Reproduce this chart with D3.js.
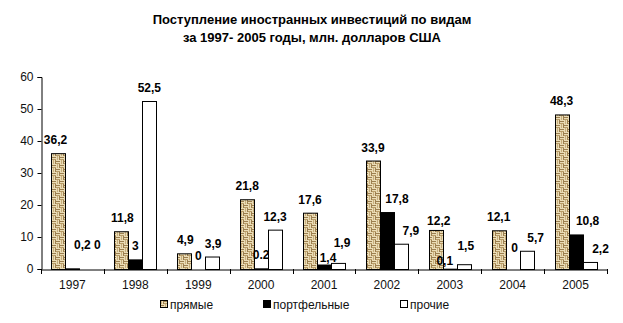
<!DOCTYPE html>
<html>
<head>
<meta charset="utf-8">
<script src="https://cdn.jsdelivr.net/npm/d3@7/dist/d3.min.js"></script>
<style>
  html, body { margin: 0; padding: 0; background: #fff; }
  svg { display: block; font-family: "Liberation Sans", Arial, sans-serif; }
</style>
</head>
<body>
<svg id="chart" width="623" height="323"></svg>
<script>
// Foreign investment inflows by type, 1997–2005, mln USD
const years = ["1997", "1998", "1999", "2000", "2001", "2002", "2003", "2004", "2005"];
const direct = [36.2, 11.8, 4.9, 21.8, 17.6, 33.9, 12.2, 12.1, 48.3];
const portfolio = [0.2, 3, 0, 0.2, 1.4, 17.8, 0.1, 0, 10.8];
const other = [0, 52.5, 3.9, 12.3, 1.9, 7.9, 1.5, 5.7, 2.2];
const seriesNames = ["прямые", "портфельные", "прочие"];
const portfolioLabels = ["0,2", "3", "0", "0.2", "1,4", "17,8", "0,1", "0", "10,8"];
const yTicks = [0, 10, 20, 30, 40, 50, 60];

// label nudges (dx, dy) per series, so that crowded labels do not collide
const nudgeDirect = [[-3,0],[1,0],[1,0],[0,0],[0,0],[0,0],[3,4],[0,0],[0,0]];
const nudgePortfolio = [[10,-10],[0,0],[0,0],[0,0],[4,6],[10,0],[-5,5],[2,-8],[12,0]];
const nudgeOther = [[11,-11],[0,0],[1,0],[0,0],[4,-7],[10,0],[2,-5],[9,0],[11,0]];

const fmt = v => String(v).replace(".", ",");

const svg = d3.select("#chart");
const x0 = 41, x1 = 607, yTop = 77, yBot = 269;

const x = d3.scaleBand().domain(years).range([x0, x1]).paddingInner(0).paddingOuter(0);
const xs = d3.scaleBand().domain(seriesNames).range([0, x.bandwidth()]).paddingInner(0).paddingOuter(0.75);
const y = d3.scaleLinear().domain([0, 60]).range([yBot, yTop]);

// basket-weave texture for the direct-investment bars
const defs = svg.append("defs");
const pat = defs.append("pattern").attr("id", "weave")
  .attr("patternUnits", "userSpaceOnUse").attr("width", 8).attr("height", 8);
pat.append("rect").attr("width", 8).attr("height", 8).attr("fill", "#d9c597");
const light = "#eadcb6", dark = "#9c7f4f";
// horizontal strands in top-left and bottom-right blocks
[[0, 0], [4, 4]].forEach(([bx, by]) => {
  pat.append("rect").attr("x", bx).attr("y", by).attr("width", 4).attr("height", 1).attr("fill", light);
  pat.append("rect").attr("x", bx).attr("y", by + 1).attr("width", 4).attr("height", 1).attr("fill", dark);
  pat.append("rect").attr("x", bx).attr("y", by + 2).attr("width", 4).attr("height", 1).attr("fill", light);
  pat.append("rect").attr("x", bx).attr("y", by + 3).attr("width", 4).attr("height", 1).attr("fill", "#b89c68");
});
// vertical strands in top-right and bottom-left blocks
[[4, 0], [0, 4]].forEach(([bx, by]) => {
  pat.append("rect").attr("x", bx).attr("y", by).attr("width", 1).attr("height", 4).attr("fill", light);
  pat.append("rect").attr("x", bx + 1).attr("y", by).attr("width", 1).attr("height", 4).attr("fill", "#c8ae7c");
  pat.append("rect").attr("x", bx + 2).attr("y", by).attr("width", 1).attr("height", 4).attr("fill", light);
  pat.append("rect").attr("x", bx + 3).attr("y", by).attr("width", 1).attr("height", 4).attr("fill", dark);
});

// title
const title = svg.append("text").attr("text-anchor", "middle")
  .attr("font-size", 13).attr("font-weight", "bold").attr("fill", "#000");
title.append("tspan").attr("x", 312).attr("y", 24).text("Поступление иностранных инвестиций по видам");
title.append("tspan").attr("x", 312).attr("y", 42).text("за 1997- 2005 годы, млн. долларов США");

// y axis
const yAxis = d3.axisLeft(y).tickValues(yTicks).tickSize(4).tickPadding(4).tickFormat(d3.format("d"));
const gy = svg.append("g").attr("transform", `translate(${x0 + 0.5},0)`).call(yAxis);
gy.select(".domain").attr("stroke", "#000");
gy.selectAll(".tick line").attr("stroke", "#000");
gy.selectAll(".tick text").attr("font-size", 12).attr("fill", "#111").attr("font-family", "Liberation Sans, Arial, sans-serif");

// bars
const series = [
  { name: seriesNames[0], values: direct, fill: "url(#weave)", nudge: nudgeDirect, labels: direct.map(fmt) },
  { name: seriesNames[1], values: portfolio, fill: "#000", nudge: nudgePortfolio, labels: portfolioLabels },
  { name: seriesNames[2], values: other, fill: "#fff", nudge: nudgeOther, labels: other.map(fmt) }
];

series.forEach(s => {
  const g = svg.append("g");
  g.selectAll("rect").data(years).join("rect")
    .attr("x", d => Math.round(x(d) + xs(s.name)) + 0.5)
    .attr("y", (d, i) => y(s.values[i]) + 0.5)
    .attr("width", Math.round(xs.bandwidth()))
    .attr("height", (d, i) => Math.max(0, yBot - y(s.values[i])))
    .attr("fill", s.fill)
    .attr("stroke", "#000").attr("stroke-width", 1)
    .attr("display", (d, i) => s.values[i] === 0 ? "none" : null);
  g.selectAll("text").data(years).join("text")
    .attr("x", (d, i) => x(d) + xs(s.name) + xs.bandwidth() / 2 + s.nudge[i][0])
    .attr("y", (d, i) => y(s.values[i]) - 9 + s.nudge[i][1])
    .attr("text-anchor", "middle")
    .attr("font-size", 12).attr("font-weight", "bold").attr("fill", "#000")
    .text((d, i) => s.labels[i]);
});

// x axis
const xAxis = d3.axisBottom(x).tickSize(0).tickPadding(11);
const gx = svg.append("g").attr("transform", `translate(0,${yBot + 0.5})`).call(xAxis);
gx.select(".domain").attr("stroke", "#000");
gx.selectAll(".tick text").attr("font-size", 12).attr("fill", "#111").attr("font-family", "Liberation Sans, Arial, sans-serif");
// category separators
svg.append("g").selectAll("line").data(years.concat(["end"])).join("line")
  .attr("x1", (d, i) => Math.round(x0 + i * x.bandwidth()) + 0.5)
  .attr("x2", (d, i) => Math.round(x0 + i * x.bandwidth()) + 0.5)
  .attr("y1", yBot).attr("y2", yBot + 5)
  .attr("stroke", "#000");

// legend
const legendX = [160, 263, 400];
const lg = svg.append("g");
series.forEach((s, i) => {
  lg.append("rect").attr("x", legendX[i] + 0.5).attr("y", 300.5).attr("width", 7).attr("height", 7)
    .attr("fill", s.fill).attr("stroke", "#000");
  lg.append("text").attr("x", legendX[i] + 10).attr("y", 308.5)
    .attr("font-size", 12).attr("fill", "#111").text(s.name);
});
</script>
</body>
</html>
